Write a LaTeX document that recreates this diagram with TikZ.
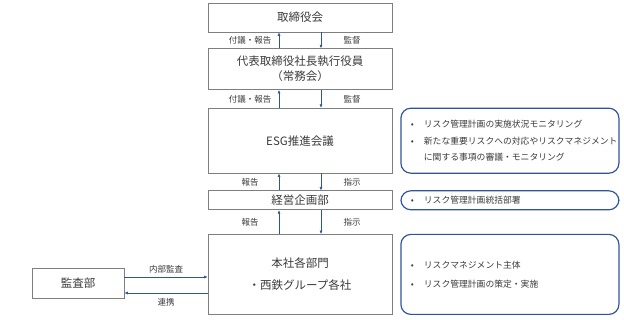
\documentclass[tikz,border=0pt]{standalone}
\usepackage{fontspec}
\setmainfont{Noto Sans CJK JP}
\usepackage{tikz}
\usetikzlibrary{arrows.meta,positioning}
\definecolor{ln}{HTML}{2F5597}
\definecolor{tx}{HTML}{3A3A3A}
\definecolor{bd}{HTML}{7F7F7F}
\newcommand{\bl}{\makebox[13pt][l]{\textbullet}}

\begin{document}
\begin{tikzpicture}[x=1pt,y=-1pt,
    bx/.style={draw=bd,line width=0.6pt,minimum width=184pt,align=center,text=tx,inner sep=0pt,font=\fontsize{11.5}{15}\selectfont},
    nt/.style={draw=ln,line width=1.2pt,rounded corners=10pt,text width=198pt,inner xsep=10pt,inner ysep=0pt,align=left,text=tx,font=\fontsize{8.8}{16.5}\selectfont},
    lb/.style={text=tx,font=\fontsize{8.5}{10}\selectfont},
    ar/.style={-{Latex[length=3.5pt,width=3pt]},draw=ln,line width=0.6pt}
]
\useasboundingbox (0,0) rectangle (624,320);
\node[bx,minimum height=29pt] (board) at (300,17.5) {取締役会};
\node[bx,minimum height=41pt,below=16pt of board] (exec) {代表取締役社長執行役員\\（常務会）};
\node[bx,minimum height=65pt,below=18pt of exec] (esg) {ESG推進会議};
\node[bx,minimum height=19pt,below=17pt of esg] (plan) {経営企画部};
\node[bx,minimum height=80pt,below=24pt of plan] (dept) {本社各部門\\[7pt]・西鉄グループ各社};
\node[bx,minimum width=92pt,minimum height=30pt] (audit) at (78,283) {監査部};
\node[nt,minimum height=65pt,right=8pt of esg] (esgnote) {\bl リスク管理計画の実施状況モニタリング\\\bl 新たな重要リスクへの対応やリスクマネジメント\\\hspace*{13pt}に関する事項の審議・モニタリング};
\node[nt,minimum height=19pt,right=8pt of plan] (plannote) {\bl リスク管理計画統括部署};
\node[nt,minimum height=80pt,right=8pt of dept,font=\fontsize{8.8}{19}\selectfont] (deptnote) {\bl リスクマネジメント主体\\\bl リスク管理計画の策定・実施};
\draw[ar] ([xshift=-21pt]exec.north) -- ([xshift=-21pt]board.south) node[lb,midway,xshift=-29pt] {付議・報告};
\draw[ar] ([xshift=21pt]board.south) -- ([xshift=21pt]exec.north) node[lb,midway,xshift=31pt] {監督};
\draw[ar] ([xshift=-21pt]esg.north) -- ([xshift=-21pt]exec.south) node[lb,midway,xshift=-29pt] {付議・報告};
\draw[ar] ([xshift=21pt]exec.south) -- ([xshift=21pt]esg.north) node[lb,midway,xshift=31pt] {監督};
\draw[ar] ([xshift=-21pt]plan.north) -- ([xshift=-21pt]esg.south) node[lb,midway,xshift=-29pt] {報告};
\draw[ar] ([xshift=21pt]esg.south) -- ([xshift=21pt]plan.north) node[lb,midway,xshift=31pt] {指示};
\draw[ar] ([xshift=-21pt]dept.north) -- ([xshift=-21pt]plan.south) node[lb,midway,xshift=-29pt] {報告};
\draw[ar] ([xshift=21pt]plan.south) -- ([xshift=21pt]dept.north) node[lb,midway,xshift=31pt] {指示};
\draw[ar] ([yshift=6pt]audit.east) -- ([yshift=6pt]audit.east -| dept.west) node[lb,midway,above] {内部監査};
\draw[ar] ([yshift=-10pt]audit.east -| dept.west) -- ([yshift=-10pt]audit.east) node[lb,midway,below=2pt] {連携};
\end{tikzpicture}
\end{document}
